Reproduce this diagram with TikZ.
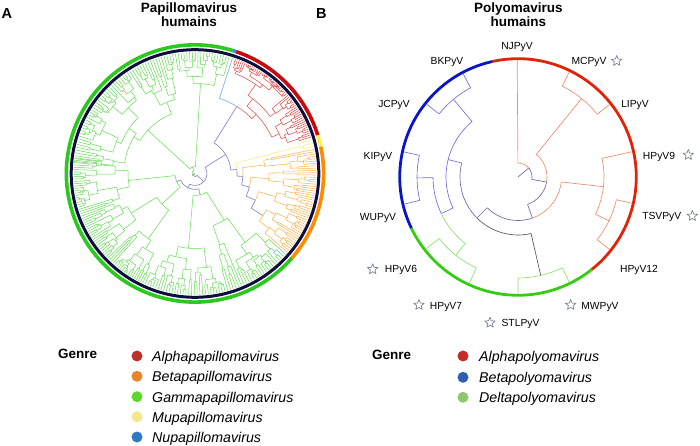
\documentclass[tikz,border=0pt]{standalone}
\usepackage{fontspec}
\setmainfont{Liberation Sans}
\usetikzlibrary{shapes.geometric}
\definecolor{gamL}{HTML}{66DD55}
\definecolor{alpL}{HTML}{E04A4A}
\definecolor{betL}{HTML}{FFB04A}
\definecolor{muL}{HTML}{FFF07A}
\definecolor{nuL}{HTML}{7FB2E8}
\definecolor{bbL}{HTML}{8C8CC8}
\definecolor{ringG}{HTML}{2BC81E}
\definecolor{ringR}{HTML}{C80A0A}
\definecolor{ringO}{HTML}{FF8C00}
\definecolor{ringY}{HTML}{FFEE44}
\definecolor{ringB}{HTML}{3A8FE0}
\definecolor{ringN}{HTML}{0E0E3E}
\definecolor{pA}{HTML}{F08A6C}
\definecolor{pB}{HTML}{6C6CE0}
\definecolor{pD}{HTML}{8CE06A}
\definecolor{pK}{HTML}{6A6AAA}
\definecolor{pG}{HTML}{55555E}
\definecolor{rR}{HTML}{E02408}
\definecolor{rB}{HTML}{0A14C8}
\definecolor{rG}{HTML}{35CC12}
\definecolor{lgA}{HTML}{C0302A}
\definecolor{lgB}{HTML}{E8842C}
\definecolor{lgG}{HTML}{5DD62C}
\definecolor{lgM}{HTML}{F4E68A}
\definecolor{lgN}{HTML}{2F78C4}
\definecolor{lpA}{HTML}{C42E26}
\definecolor{lpB}{HTML}{2F5FB0}
\definecolor{lpD}{HTML}{8DC86E}
\definecolor{starC}{HTML}{7A8594}
\newcommand\RL{121.5}
\newcommand\RB{116.5}
\newcommand\tedge[5]{\draw[#5] (#2:#1) arc[start angle=#2, end angle=#3, radius=#1] -- (#3:#4);}
\def\cladeSub#1#2#3#4#5{%
 \begingroup
 \pgfmathsetmacro\clA{#1}%
 \pgfmathsetmacro\clB{#2}%
 \pgfmathtruncatemacro\clN{#3}%
 \pgfmathsetmacro\clR{#4}%
 \def\clCol{#5}%
 \pgfmathtruncatemacro\clnA{max(1,min(\clN-1,round(\clN*(0.12+0.76*rnd))))}%
 \pgfmathtruncatemacro\clnB{\clN-\clnA}%
 \pgfmathsetmacro\clS{\clA+(\clB-\clA)*\clnA/\clN}%
 \pgfmathsetmacro\clmA{(\clA+\clS)/2}%
 \pgfmathsetmacro\clmB{(\clS+\clB)/2}%
 \draw[\clCol] (\clmA:\clR) arc[start angle=\clmA, end angle=\clmB, radius=\clR];%
 \ifnum\clnA=1
   \draw[\clCol] (\clmA:\clR) -- (\clmA:\RL);%
 \else
   \pgfmathsetmacro\clrA{\clR+(\RL-\clR)*(0.12+0.38*rnd)}%
   \draw[\clCol] (\clmA:\clR) -- (\clmA:\clrA);%
   \edef\cnext{\noexpand\cladeSub{\clA}{\clS}{\clnA}{\clrA}{\clCol}}\cnext
 \fi
 \ifnum\clnB=1
   \draw[\clCol] (\clmB:\clR) -- (\clmB:\RL);%
 \else
   \pgfmathsetmacro\clrB{\clR+(\RL-\clR)*(0.12+0.38*rnd)}%
   \draw[\clCol] (\clmB:\clR) -- (\clmB:\clrB);%
   \edef\cnext{\noexpand\cladeSub{\clS}{\clB}{\clnB}{\clrB}{\clCol}}\cnext
 \fi
 \endgroup}
\begin{document}
\begin{tikzpicture}[x=1pt,y=1pt,line join=round,
  gam/.style={draw=gamL,line width=0.52pt},
  alp/.style={draw=alpL,line width=0.52pt},
  bet/.style={draw=betL,line width=0.52pt},
  muu/.style={draw=muL,line width=0.6pt},
  nuu/.style={draw=nuL,line width=0.7pt},
  bbA/.style={draw=bbL,line width=0.7pt},
  pa/.style={draw=pA,line width=0.65pt},
  pb/.style={draw=pB,line width=0.65pt},
  pd/.style={draw=pD,line width=0.65pt},
  pk/.style={draw=pK,line width=0.65pt},
  pg/.style={draw=pG,line width=0.65pt},
  ttl/.style={font=\fontsize{13.5}{14}\selectfont\bfseries,anchor=base,inner sep=0pt},
  pnl/.style={font=\fontsize{14.5}{15}\selectfont\bfseries,anchor=base west,inner sep=0pt},
  lab/.style={font=\fontsize{10.3}{11}\selectfont,anchor=base,inner sep=0pt},
  starS/.style={star,star points=5,star point ratio=2.3,minimum size=11pt,inner sep=0pt,draw=starC,line width=0.7pt,fill=white},
  gen/.style={font=\fontsize{13.5}{14}\selectfont\bfseries,anchor=base west,inner sep=0pt},
  lgt/.style={font=\fontsize{14.2}{15}\selectfont\itshape,anchor=base west,inner sep=0pt},
  dot/.style={circle,inner sep=0pt,minimum size=11pt}]
\useasboundingbox (0,0) rectangle (700,446);
\pgfmathsetseed{4321}
% ---------------- Panel A ----------------
\node[pnl] (labA) at (1.5,427) {A};
\node[ttl] (tA1) at (189,433.3) {Papillomavirus};
\node[ttl] (tA2) at (189,419.3) {humains};
\begin{scope}[shift={(195,272.5)}]
  % backbone
  \draw[bbA] (0,0) -- (214.8:3);
  \tedge{3}{214.8}{112}{7}{gam}
  \tedge{3}{214.8}{317.6}{12}{bbA}
  % gamma clades from node a
  \tedge{7}{112}{86.5}{90}{gam}
  \cladeSub{73}{100}{20}{90}{gam}
  \tedge{7}{112}{137.5}{64}{gam}
  \cladeSub{100}{175}{55}{64}{gam}
  % node b
  \tedge{12}{317.6}{243.75}{16}{bbA}
  \tedge{12}{317.6}{391.75}{36}{bbA}
  % node c
  \tedge{16}{243.75}{204.25}{20}{bbA}
  \tedge{16}{243.75}{283.5}{22}{bbA}
  \tedge{20}{204.25}{186}{67}{gam}
  \cladeSub{172}{200}{25}{67}{gam}
  \tedge{20}{204.25}{222.5}{45}{gam}
  \cladeSub{200}{245}{40}{45}{gam}
  \tedge{22}{283.5}{265}{75}{gam}
  \cladeSub{245}{285}{30}{75}{gam}
  \tedge{22}{283.5}{302}{55}{gam}
  \cladeSub{285}{319}{25}{55}{gam}
  % node d
  \tedge{36}{31.75}{58}{79}{bbA}
  \tedge{79}{58}{44}{85}{alp}
  \cladeSub{17}{71}{55}{85}{alp}
  \tedge{79}{58}{72}{\RL}{nuu}
  \tedge{36}{31.75}{5.5}{42}{bbA}
  \tedge{42}{5.5}{14.5}{108}{muu}
  \cladeSub{12}{17}{3}{108}{muu}
  \tedge{42}{5.5}{-3.5}{48}{bbA}
  \tedge{48}{-3.5}{7}{70}{bet}
  \cladeSub{2}{12}{9}{70}{bet}
  \tedge{48}{-3.5}{-13.9}{56}{bbA}
  \tedge{56}{-13.9}{-4}{74}{bet}
  \cladeSub{-10}{2}{11}{74}{bet}
  \tedge{56}{-13.9}{-23.9}{66}{bbA}
  \tedge{66}{-23.9}{-16}{84}{bet}
  \cladeSub{-22}{-10}{11}{84}{bet}
  \tedge{66}{-23.9}{-31.75}{80}{bbA}
  \tedge{80}{-31.75}{-27}{90}{bet}
  \cladeSub{-32}{-22}{9}{90}{bet}
  \tedge{80}{-31.75}{-36.5}{92}{bet}
  \cladeSub{-41}{-32}{8}{92}{bet}
  % rings
  \draw[ringN,line width=3pt] (0,0) circle[radius=123.8];
  \draw[ringG,line width=3.6pt] (73:128.6) arc[start angle=73,end angle=319,radius=128.6];
  \draw[ringB,line width=3.6pt] (71.3:128.6) arc[start angle=71.3,end angle=73,radius=128.6];
  \draw[ringR,line width=3.6pt] (17.3:128.6) arc[start angle=17.3,end angle=71.3,radius=128.6];
  \draw[ringY,line width=3.6pt] (12:128.6) arc[start angle=12,end angle=17.3,radius=128.6];
  \draw[ringO,line width=3.6pt] (-41.2:128.6) arc[start angle=-41.2,end angle=12,radius=128.6];
\end{scope}
% ---------------- Panel B ----------------
\node[pnl] (labB) at (316,427) {B};
\node[ttl] (tB1) at (518.3,433.3) {Polyomavirus};
\node[ttl] (tB2) at (518.3,419.3) {humains};
\begin{scope}[shift={(518,269)}]
  \draw[pk] (0,0) -- (40:14);
  \tedge{14}{40}{90.4}{\RB}{pa}
  \tedge{14}{40}{-10}{29}{pk}
  \tedge{29}{-10}{51}{101}{pa}
  \tedge{101}{51}{64}{\RB}{pa}
  \tedge{101}{51}{38.4}{\RB}{pa}
  \tedge{29}{-10}{-70.75}{43.5}{pk}
  \tedge{43.5}{-70.75}{-6.5}{86}{pa}
  \tedge{86}{-6.5}{12.5}{\RB}{pa}
  \tedge{86}{-6.5}{-25.7}{101}{pa}
  \tedge{101}{-25.7}{-13}{\RB}{pa}
  \tedge{101}{-25.7}{-38.4}{\RB}{pa}
  \tedge{43.5}{-70.75}{-135}{58}{pk}
  \tedge{58}{225}{283}{101}{pg}
  \tedge{101}{283}{296}{\RB}{pd}
  \tedge{101}{283}{270}{\RB}{pd}
  \tedge{58}{225}{166}{72}{pk}
  \tedge{72}{166}{129.7}{101}{pb}
  \tedge{101}{129.7}{118}{\RB}{pb}
  \tedge{101}{129.7}{141.4}{\RB}{pb}
  \tedge{72}{166}{205.5}{85}{pb}
  \tedge{85}{205.5}{180.5}{101}{pb}
  \tedge{101}{180.5}{167.6}{\RB}{pb}
  \tedge{101}{180.5}{193.4}{\RB}{pb}
  \tedge{85}{205.5}{231.5}{100}{pd}
  \tedge{100}{231.5}{218}{\RB}{pd}
  \tedge{100}{231.5}{245.4}{\RB}{pd}
  \draw[rR,line width=2.8pt] (102.6:118.3) arc[start angle=102.6,end angle=-51.5,radius=118.3];
  \draw[rB,line width=2.8pt] (102.6:118.3) arc[start angle=102.6,end angle=205.7,radius=118.3];
  \draw[rG,line width=2.8pt] (205.7:118.3) arc[start angle=205.7,end angle=308.5,radius=118.3];
\end{scope}
% labels
\node[lab] (nj) at (517,396) {NJPyV};
\node[lab] (mc) at (589,381) {MCPyV};
\node[lab] (li) at (635,338.5) {LIPyV};
\node[lab] (h9) at (659,286.8) {HPyV9};
\node[lab] (ts) at (661.7,226) {TSVPyV};
\node[lab] (h12) at (639,173.5) {HPyV12};
\node[lab] (mw) at (600,136.8) {MWPyV};
\node[lab] (stl) at (520.5,119.5) {STLPyV};
\node[lab] (h7) at (446,136.8) {HPyV7};
\node[lab] (h6) at (401,173.5) {HPyV6};
\node[lab] (wu) at (378,225.5) {WUPyV};
\node[lab] (ki) at (378,286.8) {KIPyV};
\node[lab] (jc) at (394,338.5) {JCPyV};
\node[lab] (bk) at (447,381) {BKPyV};
\node[starS] (smc) at (616.7,385) {};
\node[starS] (sh9) at (688.3,291) {};
\node[starS] (sts) at (692.3,230) {};
\node[starS] (smw) at (570.7,141) {};
\node[starS] (sstl) at (490,123.3) {};
\node[starS] (sh7) at (419,141) {};
\node[starS] (sh6) at (372.7,176.7) {};
% ---------------- Legends ----------------
\node[gen] (genA) at (58,87.7) {Genre};
\node[dot,fill=lgA] (dA1) at (137,90) {};
\node[dot,fill=lgB] (dA2) at (137,69.7) {};
\node[dot,fill=lgG] (dA3) at (137,49.3) {};
\node[dot,fill=lgM] (dA4) at (137,29.3) {};
\node[dot,fill=lgN] (dA5) at (137,9) {};
\node[lgt] (tA1l) at (152,84.5) {Alphapapillomavirus};
\node[lgt] (tA2l) at (152,64.2) {Betapapillomavirus};
\node[lgt] (tA3l) at (152,43.8) {Gammapapillomavirus};
\node[lgt] (tA4l) at (152,23.8) {Mupapillomavirus};
\node[lgt] (tA5l) at (152,3.5) {Nupapillomavirus};
\node[gen] (genB) at (372,86) {Genre};
\node[dot,fill=lpA] (dB1) at (463,90) {};
\node[dot,fill=lpB] (dB2) at (463,68.7) {};
\node[dot,fill=lpD] (dB3) at (463,48.7) {};
\node[lgt] (tB1l) at (479,84.5) {Alphapolyomavirus};
\node[lgt] (tB2l) at (479,63.2) {Betapolyomavirus};
\node[lgt] (tB3l) at (479,43.2) {Deltapolyomavirus};
\end{tikzpicture}
\end{document}
